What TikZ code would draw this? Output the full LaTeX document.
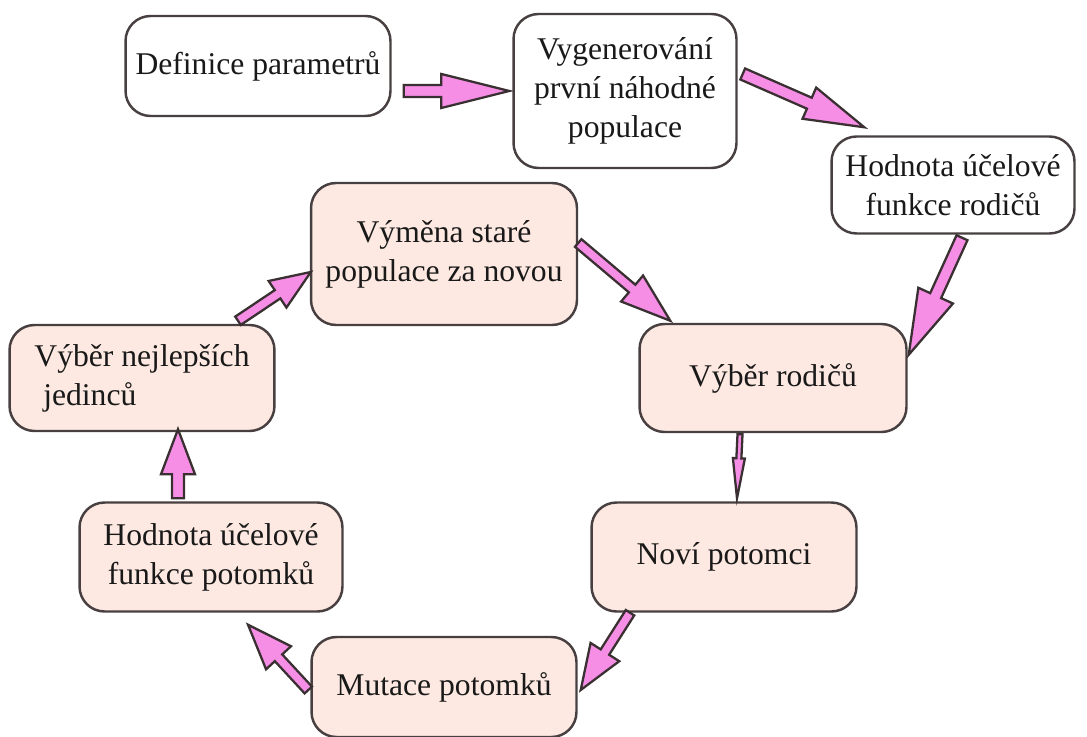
\documentclass[tikz,border=0pt]{standalone}
\usepackage{fontspec}
\setmainfont{Liberation Serif}
\usetikzlibrary{calc}

% thick outlined arrow from #1 to #2: half shaft, half head, head length (px)
\newcommand{\blockarrow}[5]{%
  \coordinate (ba-s) at (#1);
  \coordinate (ba-e) at (#2);
  \coordinate (ba-h) at ($(ba-e)!#5*0.02cm!(ba-s)$);
  \draw[blockarr] ($(ba-s)!#3*0.02cm!90:(ba-e)$) -- ($(ba-h)!#3*0.02cm!90:(ba-e)$)
    -- ($(ba-h)!#4*0.02cm!90:(ba-e)$) -- (ba-e)
    -- ($(ba-h)!#4*0.02cm!-90:(ba-e)$) -- ($(ba-h)!#3*0.02cm!-90:(ba-e)$)
    -- ($(ba-s)!#3*0.02cm!-90:(ba-e)$) -- cycle;
}

\begin{document}
\begin{tikzpicture}[
  x=0.02cm, y=-0.02cm,
  font=\fontsize{18}{22.2}\selectfont,
  box/.style={draw=boxline, line width=1.4pt, rounded corners=0.5cm, align=center,
    inner sep=0pt, text=black!90},
  stage/.style={box, fill=stagefill},
  blockarr/.style={draw=arrline, line width=1.3pt, fill=arrfill, line join=miter}
]
\definecolor{boxline}{RGB}{72,64,64}
\definecolor{stagefill}{RGB}{253,233,225}
\definecolor{arrline}{RGB}{58,48,50}
\definecolor{arrfill}{RGB}{246,142,230}

\useasboundingbox (0,0) rectangle (1087,736);

\node[box, minimum width=5.3cm, minimum height=2.0cm] (def) at (258,66) {Definice parametrů};
\node[box, minimum width=4.46cm, minimum height=3.08cm] (gen) at (625,91) {Vygenerování\\první náhodné\\populace};
\node[box, minimum width=4.86cm, minimum height=1.94cm] (hodr) at (953,185) {Hodnota účelové\\funkce rodičů};
\node[stage, minimum width=5.32cm, minimum height=2.84cm] (vym) at (444,254) {Výměna staré\\populace za novou};
\node[stage, minimum width=5.34cm, minimum height=2.16cm] (vybr) at (773,378) {Výběr rodičů};
\node[stage, minimum width=5.3cm, minimum height=2.12cm] (vybn) at (142,378) {Výběr nejlepších\\jedinců\hspace*{3.3em}};
\node[stage, minimum width=5.3cm, minimum height=2.18cm] (nov) at (724,557) {Noví potomci};
\node[stage, minimum width=5.26cm, minimum height=2.18cm] (hodp) at (211,557) {Hodnota účelové\\funkce potomků};
\node[stage, minimum width=5.3cm, minimum height=2.0cm] (mut) at (444,687) {Mutace potomků};

\blockarrow{$(def.east)+(12,25)$}{$(gen.west)+(-3,0)$}{6}{17}{68}
\blockarrow{$(gen.east)+(5,-17)$}{$(hodr.north west)+(34,-8)$}{6}{17}{60}
\blockarrow{$(hodr.south)+(9,3)$}{$(vybr.north east)+(1,32)$}{6}{19}{65}
\blockarrow{$(vym.east)+(0,-11)$}{$(vybr.north west)+(32,-2)$}{5}{17}{50}
\blockarrow{$(vybr.south)+(-33,1)$}{$(nov.north)+(13,-3)$}{2.5}{6}{40}
\blockarrow{$(nov.south)+(-94,0)$}{$(mut.east)+(3,3)$}{5}{17}{45}
\blockarrow{$(mut.west)+(-2,3)$}{$(hodp.south)+(37,12)$}{5}{17}{45}
\blockarrow{$(hodp.north)+(-33,-3)$}{$(vybn.south)+(36,-3)$}{6}{17}{45}
\blockarrow{$(vybn.north)+(96,-3)$}{$(vym.west)+(1,18)$}{5}{16}{40}
\end{tikzpicture}
\end{document}
